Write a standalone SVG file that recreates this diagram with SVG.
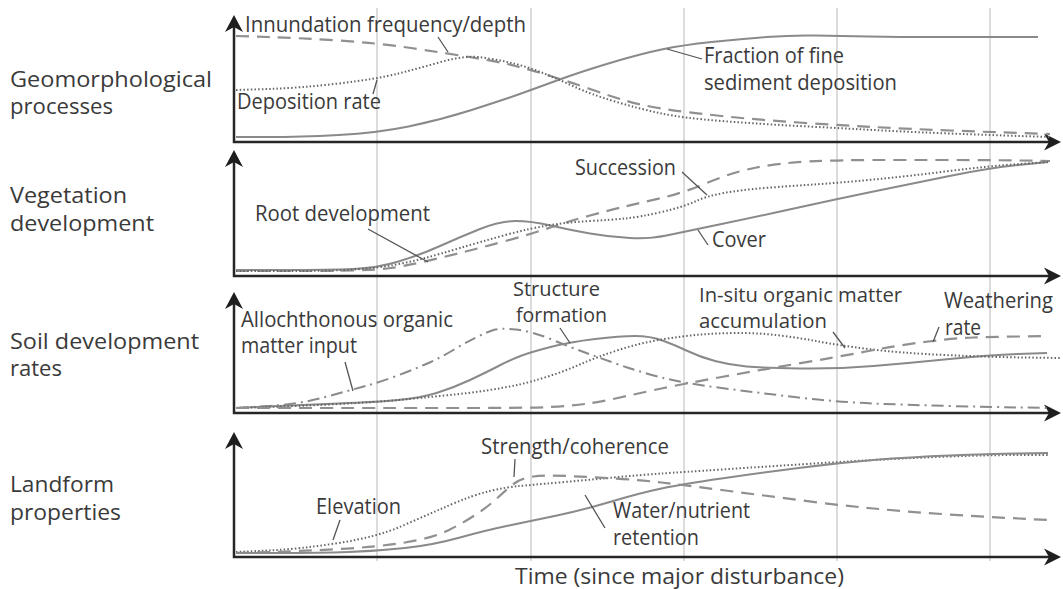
<svg xmlns="http://www.w3.org/2000/svg" width="1063" height="589" viewBox="0 0 1063 589">
  <style>
    text { font-family: "Open Sans", "Liberation Sans", sans-serif; font-size: 21px; fill: #3a3a3a; }
    text.tight { font-size: 19.5px; }
    .grid { stroke: #d0d0d0; stroke-width: 1.5; fill: none; }
    .axis { stroke: #262626; stroke-width: 2.5; fill: none; }
    .head { fill: #1e1e1e; stroke: none; }
    .c { fill: none; stroke-linecap: butt; stroke-linejoin: round; }
    .solid { stroke: #8a8a8a; stroke-width: 2; }
    .dash { stroke: #909090; stroke-width: 2.2; stroke-dasharray: 13 8; }
    .dot { stroke: #666; stroke-width: 2; stroke-dasharray: 1.5 2.2; }
    .dashdot { stroke: #8a8a8a; stroke-width: 2; stroke-dasharray: 12 5 2 5; }
    .lead { stroke: #555; stroke-width: 1.3; fill: none; }
  </style>

  <!-- vertical time gridlines -->
  <g id="gridlines" class="grid">
    <line x1="377" y1="8" x2="377" y2="561"/>
    <line x1="531" y1="8" x2="531" y2="561"/>
    <line x1="684" y1="8" x2="684" y2="561"/>
    <line x1="837" y1="8" x2="837" y2="561"/>
    <line x1="990" y1="8" x2="990" y2="561"/>
  </g>

  <!-- row titles -->
  <g id="row-titles">
    <text x="10" y="87" textLength="202" lengthAdjust="spacingAndGlyphs">Geomorphological</text>
    <text x="10" y="114" textLength="103" lengthAdjust="spacingAndGlyphs">processes</text>
    <text x="10" y="203" textLength="117" lengthAdjust="spacingAndGlyphs">Vegetation</text>
    <text x="10" y="231" textLength="144" lengthAdjust="spacingAndGlyphs">development</text>
    <text x="10" y="349" textLength="189" lengthAdjust="spacingAndGlyphs">Soil development</text>
    <text x="10" y="376" textLength="52" lengthAdjust="spacingAndGlyphs">rates</text>
    <text x="10" y="492" textLength="104" lengthAdjust="spacingAndGlyphs">Landform</text>
    <text x="10" y="520" textLength="111" lengthAdjust="spacingAndGlyphs">properties</text>
  </g>

  <!-- axes of the four stacked panels -->
  <g id="axes">
    <path class="axis" d="M234,26 V142 H1050"/>
    <path class="head" d="M234,15 L243,32 L234,27 L225,32 Z"/>
    <path class="head" d="M1061,142 L1044,133.5 L1049,142 L1044,150.5 Z"/>

    <path class="axis" d="M234,160 V276 H1050"/>
    <path class="head" d="M234,150 L243,167 L234,162 L225,167 Z"/>
    <path class="head" d="M1061,276 L1044,267.5 L1049,276 L1044,284.5 Z"/>

    <path class="axis" d="M234,302 V413 H1050"/>
    <path class="head" d="M234,292 L243,309 L234,304 L225,309 Z"/>
    <path class="head" d="M1061,413 L1044,404.5 L1049,413 L1044,421.5 Z"/>

    <path class="axis" d="M234,442 V557 H1050"/>
    <path class="head" d="M234,432 L243,449 L234,444 L225,449 Z"/>
    <path class="head" d="M1061,557 L1044,548.5 L1049,557 L1044,565.5 Z"/>
  </g>

  <!-- panel 1: geomorphological processes -->
  <g id="panel-geomorphology">
    <path class="c solid" d="M236,137 L268,137 Q300,137 338.5,135 Q377,133 408.5,126.5 Q440,120 470,110.5 Q500,101 515.5,95.5 Q531,90 555.5,81 Q580,72 610,63 Q640,54 661.5,49.5 Q683,45 711.5,42 Q740,39 766.5,37 Q793,35 815,35.5 Q837,36 868.5,36.5 Q900,37 935,37 Q970,37 1004,37 L1038,37"/>
    <path class="c dash" d="M236,36 L268,37 Q300,38 338.5,40.5 Q377,43 411,48 Q445,53 472.5,57.5 Q500,62 515.5,66 Q531,70 550.5,76 Q570,82 590,89 Q610,96 625,100.5 Q640,105 661.5,108.5 Q683,112 721.5,116 Q760,120 798.5,122.5 Q837,125 873.5,127 Q910,129 949.5,130.5 Q989,132 1019.5,133 L1050,134"/>
    <path class="c dot" d="M236,90 L268,89 Q300,88 338.5,83.5 Q377,79 398.5,73.5 Q420,68 442.5,61.5 Q465,55 482.5,57.5 Q500,60 515.5,64 Q531,68 545.5,74 Q560,80 575,87 Q590,94 615,101.5 Q640,109 661.5,113.5 Q683,118 721.5,121 Q760,124 798.5,126 Q837,128 873.5,130 Q910,132 949.5,133.5 Q989,135 1019.5,136 L1050,137"/>
    <text x="245" y="32" textLength="281" lengthAdjust="spacingAndGlyphs">Innundation frequency/depth</text>
    <text x="237" y="109" textLength="144" lengthAdjust="spacingAndGlyphs">Deposition rate</text>
    <text x="704" y="63" textLength="140" lengthAdjust="spacingAndGlyphs">Fraction of fine</text>
    <text x="704" y="90" textLength="193" lengthAdjust="spacingAndGlyphs">sediment deposition</text>
  </g>

  <!-- panel 2: vegetation development -->
  <g id="panel-vegetation">
    <path class="c solid" d="M236,270 L283,270 Q330,270 353.5,269 Q377,268 398.5,261.5 Q420,255 440,246 Q460,237 480,229 Q500,221 515.5,221 Q531,221 550.5,225.5 Q570,230 590,233.5 Q610,237 630,238 Q650,239 666.5,235.5 Q683,232 721.5,224 Q760,216 798.5,207.5 Q837,199 873.5,191.5 Q910,184 949.5,176 Q989,168 1018.5,165 L1048,162"/>
    <path class="c dash" d="M236,271 L283,271 Q330,271 353.5,270.5 Q377,270 391,268 Q405,266 422.5,262 Q440,258 460,253 Q480,248 505.5,241 Q531,234 550.5,227.5 Q570,221 590,215.5 Q610,210 625,206.5 Q640,203 661.5,198 Q683,193 708,182.5 Q733,172 756.5,167.5 Q780,163 808.5,161.5 Q837,160 873.5,160 Q910,160 949.5,160 Q989,160 1019.5,160.5 L1050,161"/>
    <path class="c dot" d="M236,271 L283,271 Q330,271 353.5,269.5 Q377,268 393.5,265 Q410,262 425,258 Q440,254 460,248 Q480,242 505.5,235 Q531,228 550.5,225 Q570,222 590,221 Q610,220 625,218.5 Q640,217 661.5,212 Q683,207 695,201.5 Q707,196 723.5,193 Q740,190 765,188 Q790,186 813.5,184.5 Q837,183 873.5,179.5 Q910,176 949.5,171 Q989,166 1019.5,164 L1050,162"/>
    <text x="575" y="175" textLength="101" lengthAdjust="spacingAndGlyphs">Succession</text>
    <text x="255" y="221" textLength="175" lengthAdjust="spacingAndGlyphs">Root development</text>
    <text x="712" y="247" textLength="54" lengthAdjust="spacingAndGlyphs">Cover</text>
  </g>

  <!-- panel 3: soil development rates -->
  <g id="panel-soil">
    <path class="c dashdot" d="M236,408 L268,406 Q300,404 323.5,397.5 Q347,391 362,387 Q377,383 393.5,377 Q410,371 425,364.5 Q440,358 452.5,350.5 Q465,343 476,337.5 Q487,332 493.5,330 Q500,328 515.5,329.5 Q531,331 550.5,339 Q570,347 585,352.5 Q600,358 620,365 Q640,372 661.5,377.5 Q683,383 721.5,388 Q760,393 798.5,397.5 Q837,402 873.5,403.5 Q910,405 949.5,406 Q989,407 1020.5,407.5 L1052,408"/>
    <path class="c solid" d="M236,408 L268,406.5 Q300,405 338.5,403.5 Q377,402 398.5,400 Q420,398 436.5,393 Q453,388 470,380 Q487,372 498.5,366 Q510,360 520.5,356 Q531,352 550.5,347 Q570,342 595,339 Q620,336 635,336 Q650,336 662.5,340.5 Q675,345 687.5,351 Q700,357 715,361 Q730,365 746.5,366.5 Q763,368 800,368.5 Q837,369 873.5,366 Q910,363 949.5,359 Q989,355 1018,354 L1047,353"/>
    <path class="c dot" d="M236,408 L268,407 Q300,406 338.5,404 Q377,402 398.5,400 Q420,398 445,395.5 Q470,393 486.5,390.5 Q503,388 517,385 Q531,382 548,376.5 Q565,371 581,364 Q597,357 618.5,350 Q640,343 661.5,339.5 Q683,336 701.5,334.5 Q720,333 740,333 Q760,333 780,335.5 Q800,338 818.5,341.5 Q837,345 868.5,349 Q900,353 944.5,355 Q989,357 1024.5,357.5 L1060,358"/>
    <path class="c dash" d="M236,408 L318,408 Q400,408 465.5,408 Q531,408 550.5,407 Q570,406 585,404 Q600,402 620,397.5 Q640,393 661.5,388.5 Q683,384 721.5,377 Q760,370 798.5,363.5 Q837,357 868.5,351 Q900,345 928.5,341.5 Q957,338 973,337.5 Q989,337 1018.5,336.5 L1048,336"/>
    <text x="241" y="327" textLength="212" lengthAdjust="spacingAndGlyphs">Allochthonous organic</text>
    <text x="241" y="353" textLength="116" lengthAdjust="spacingAndGlyphs">matter input</text>
    <text class="tight" x="513" y="296" textLength="87" lengthAdjust="spacingAndGlyphs">Structure</text>
    <text class="tight" x="516" y="322" textLength="91" lengthAdjust="spacingAndGlyphs">formation</text>
    <text class="tight" x="699" y="302" textLength="203" lengthAdjust="spacingAndGlyphs">In-situ organic matter</text>
    <text class="tight" x="699" y="328" textLength="128" lengthAdjust="spacingAndGlyphs">accumulation</text>
    <text x="944" y="308" textLength="109" lengthAdjust="spacingAndGlyphs">Weathering</text>
    <text x="945" y="335" textLength="36" lengthAdjust="spacingAndGlyphs">rate</text>
  </g>

  <!-- panel 4: landform properties -->
  <g id="panel-landform">
    <path class="c dot" d="M236,552 L268,550.5 Q300,549 338.5,543 Q377,537 402,526 Q427,515 450,505 Q473,495 490,491 Q507,487 519,486 Q531,485 559,482.5 Q587,480 613.5,477.5 Q640,475 661.5,473.5 Q683,472 721.5,469.5 Q760,467 798.5,464.5 Q837,462 873.5,460 Q910,458 949.5,456.5 Q989,455 1018.5,455 L1048,455"/>
    <path class="c dash" d="M236,553 L269.5,552 Q303,551 340,549 Q377,547 405,542.5 Q433,538 449,530 Q465,522 477.5,513.5 Q490,505 499,496.5 Q508,488 515,483 Q522,478 533.5,476.5 Q545,475 567.5,476 Q590,477 615,478.5 Q640,480 661.5,482.5 Q683,485 721.5,490 Q760,495 798.5,500 Q837,505 873.5,508.5 Q910,512 949.5,514.5 Q989,517 1018.5,518.5 L1048,520"/>
    <path class="c solid" d="M236,553 L278,553 Q320,553 348.5,552 Q377,551 405,548 Q433,545 460,537.5 Q487,530 509,525.5 Q531,521 557,515.5 Q583,510 611.5,501.5 Q640,493 661.5,488.5 Q683,484 721.5,478.5 Q760,473 798.5,468 Q837,463 873.5,460 Q910,457 949.5,455.5 Q989,454 1018.5,453.5 L1048,453"/>
    <text x="481" y="454" textLength="188" lengthAdjust="spacingAndGlyphs">Strength/coherence</text>
    <text x="316" y="514" textLength="85" lengthAdjust="spacingAndGlyphs">Elevation</text>
    <text x="613" y="518" textLength="137" lengthAdjust="spacingAndGlyphs">Water/nutrient</text>
    <text x="613" y="545" textLength="86" lengthAdjust="spacingAndGlyphs">retention</text>
  </g>

  <!-- label leader lines -->
  <g id="leaders" class="lead">
    <line x1="438" y1="37" x2="448" y2="52"/>
    <line x1="377" y1="80" x2="373" y2="94"/>
    <line x1="667" y1="49" x2="702" y2="59"/>
    <line x1="682" y1="172" x2="707" y2="195"/>
    <line x1="368" y1="229" x2="428" y2="262"/>
    <line x1="698" y1="230" x2="708" y2="245"/>
    <line x1="345" y1="362" x2="353" y2="391"/>
    <line x1="560" y1="328" x2="570" y2="343"/>
    <line x1="833" y1="332" x2="845" y2="348"/>
    <line x1="933" y1="342" x2="939" y2="327"/>
    <line x1="515" y1="459" x2="514" y2="477"/>
    <line x1="340" y1="520" x2="333" y2="540"/>
    <line x1="585" y1="495" x2="605" y2="528"/>
  </g>

  <text id="x-axis-title" x="515" y="584" style="font-size:22px" textLength="329" lengthAdjust="spacingAndGlyphs">Time (since major disturbance)</text>
</svg>
